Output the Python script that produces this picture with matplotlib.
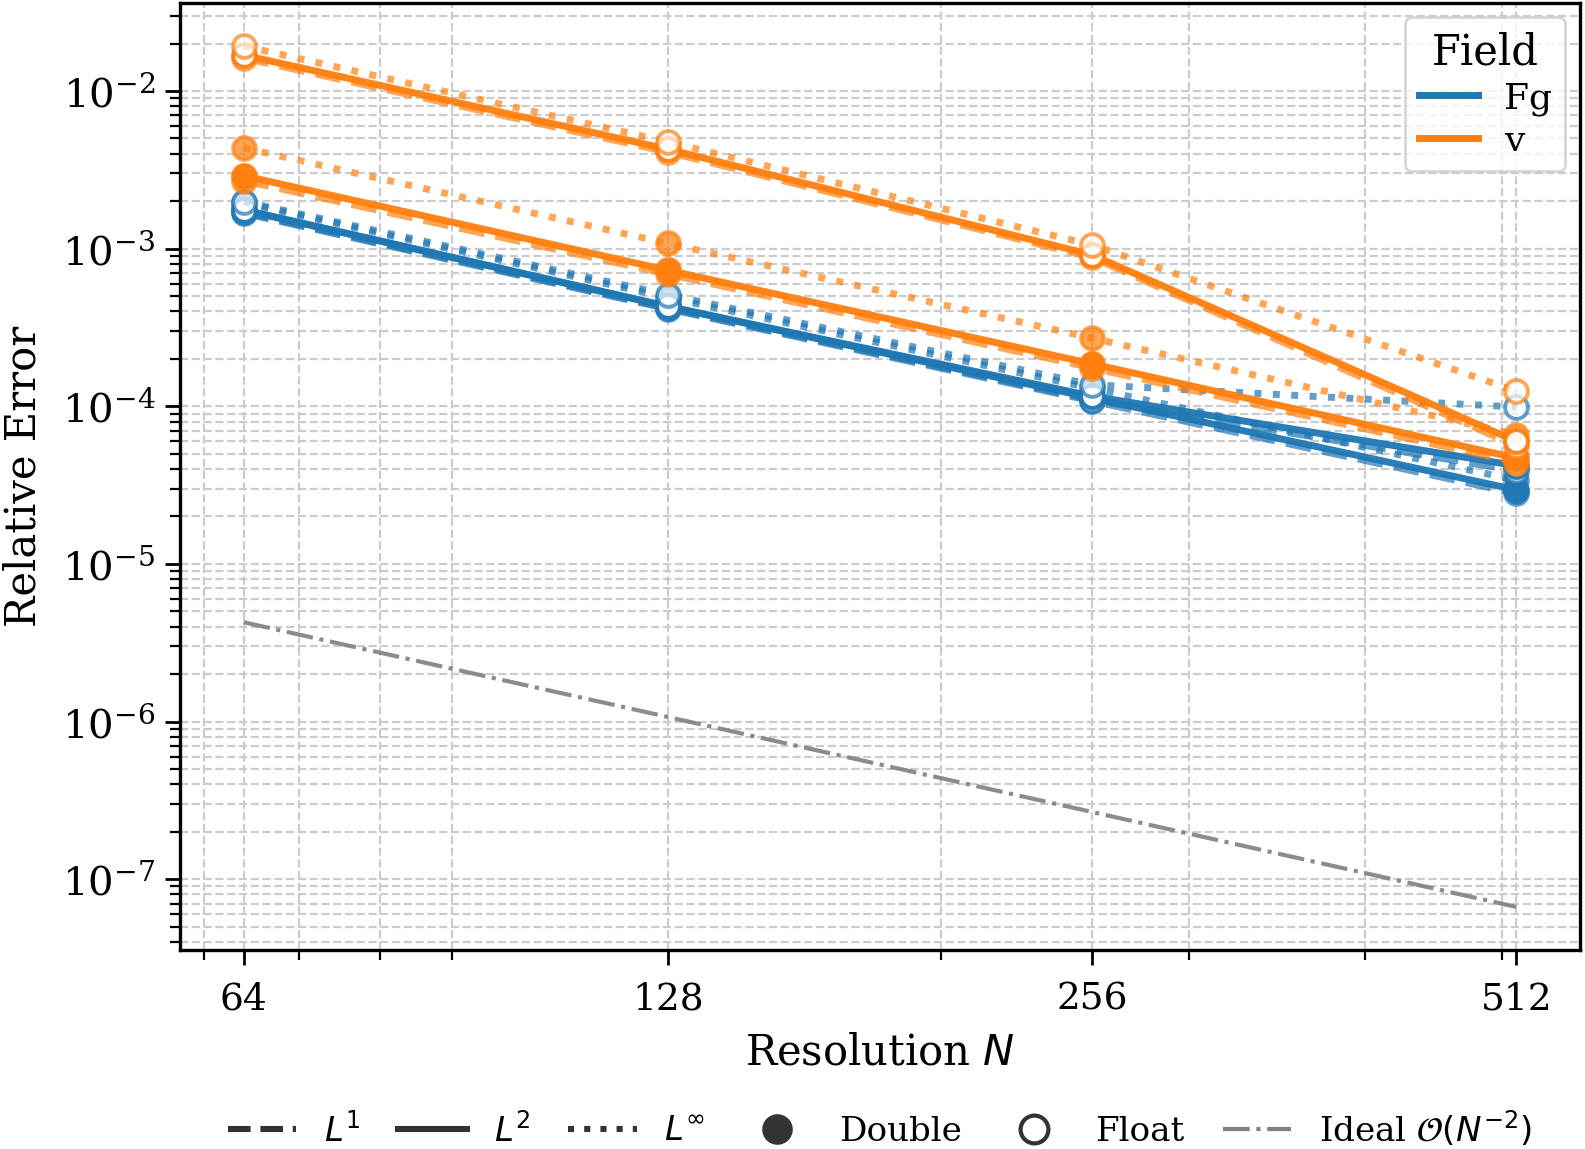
import matplotlib
matplotlib.use('Agg')
import matplotlib.pyplot as plt
from matplotlib.lines import Line2D
from matplotlib.ticker import NullFormatter

#### Data ####
N = [64, 128, 256, 512]
tick_labels = ['64', '128', '256', '512']

# Fg field
fg_double_l1 = [1.68e-3, 4.15e-4, 1.08e-4, 2.8e-5]
fg_double_l2 = [1.76e-3, 4.30e-4, 1.13e-4, 2.95e-5]
fg_double_linf = [1.95e-3, 4.90e-4, 1.30e-4, 3.4e-5]
fg_float_l1 = [1.70e-3, 4.20e-4, 1.10e-4, 3.9e-5]
fg_float_l2 = [1.76e-3, 4.30e-4, 1.16e-4, 4.2e-5]
fg_float_linf = [1.99e-3, 5.10e-4, 1.37e-4, 9.9e-5]

# v field
v_double_l1 = [2.70e-3, 6.90e-4, 1.75e-4, 4.4e-5]
v_double_l2 = [2.90e-3, 7.30e-4, 1.86e-4, 4.7e-5]
v_double_linf = [4.36e-3, 1.08e-3, 2.71e-4, 6.6e-5]
v_float_l1 = [1.62e-2, 4.10e-3, 8.80e-4, 5.6e-5]
v_float_l2 = [1.69e-2, 4.28e-3, 9.14e-4, 6.0e-5]
v_float_linf = [1.93e-2, 4.76e-3, 1.056e-3, 1.25e-4]

ideal = [4.27e-6, 1.07e-6, 2.67e-7, 6.67e-8]

#### Style ####
plt.rcParams['font.family'] = 'serif'
plt.rcParams['font.serif'] = ['DejaVu Serif']

colors = {'Fg': '#1f77b4', 'v': '#ff7f0e'}
norm_style = {'L1': ('--', 0.7), 'L2': ('-', 0.95), 'Linf': (':', 0.7)}

series = [
    ('Fg', 'Double', 'L1', fg_double_l1),
    ('Fg', 'Double', 'L2', fg_double_l2),
    ('Fg', 'Double', 'Linf', fg_double_linf),
    ('Fg', 'Float', 'L1', fg_float_l1),
    ('Fg', 'Float', 'L2', fg_float_l2),
    ('Fg', 'Float', 'Linf', fg_float_linf),
    ('v', 'Double', 'L1', v_double_l1),
    ('v', 'Double', 'L2', v_double_l2),
    ('v', 'Double', 'Linf', v_double_linf),
    ('v', 'Float', 'L1', v_float_l1),
    ('v', 'Float', 'L2', v_float_l2),
    ('v', 'Float', 'Linf', v_float_linf),
]

fig = plt.figure(figsize=(7.925, 5.745), dpi=200)
ax = fig.add_axes([0.1136, 0.1732, 0.8832, 0.8242])

for field, prec, norm, vals in series:
    ls, alpha = norm_style[norm]
    c = colors[field]
    mfc = c if prec == 'Double' else 'white'
    ax.plot(N, vals, ls=ls, color=c, alpha=alpha, lw=2.5,
            marker='o', ms=8.2, mfc=mfc, mec=c, mew=1.4)

ax.plot(N, ideal, ls='-.', color='0.5', lw=1.5, alpha=0.9)

ax.set_xscale('log')
ax.set_yscale('log')
ax.set_xticks(N)
ax.set_xticklabels(tick_labels)
ax.xaxis.set_minor_formatter(NullFormatter())

ax.grid(True, which='both', ls='--', color='0.8', lw=0.8)
ax.tick_params(which='major', length=5.4, width=1.0)
ax.tick_params(axis='x', which='major', labelsize=13.5, pad=6)
ax.tick_params(axis='y', which='major', labelsize=14.5)
ax.tick_params(which='minor', length=3.6, width=0.8)
for s in ax.spines.values():
    s.set_linewidth(1.2)

ax.set_xlabel('Resolution $N$', fontsize=15, labelpad=5)
ax.set_ylabel('Relative Error', fontsize=15, labelpad=6)

#### Legends ####
field_handles = [Line2D([], [], color=colors['Fg'], lw=2.5),
                 Line2D([], [], color=colors['v'], lw=2.5)]
ax.legend(field_handles, ['Fg', 'v'], title='Field', loc='upper right',
          fontsize=13, title_fontsize=15, labelspacing=0.22,
          handlelength=1.65, handletextpad=0.7, borderaxespad=0.4,
          borderpad=0.38)

dark = '0.2'
style_handles = [
    Line2D([], [], color=dark, ls='--', lw=2.2),
    Line2D([], [], color=dark, ls='-', lw=2.2),
    Line2D([], [], color=dark, ls=':', lw=2.2),
    Line2D([], [], color=dark, ls='none', marker='o', ms=10),
    Line2D([], [], color=dark, ls='none', marker='o', ms=10, mfc='white', mew=1.5),
    Line2D([], [], color='0.5', ls='-.', lw=1.5),
]
style_labels = ['$L^1$', '$L^2$', r'$L^\infty$', 'Double', 'Float',
                r'Ideal $\mathcal{O}(N^{-2})$']
fig.legend(style_handles, style_labels, loc='lower center', ncol=6,
           frameon=False, fontsize=12.3, bbox_to_anchor=(0.555, -0.014),
           borderpad=0.0, columnspacing=1.12)

fig.savefig('out.png', dpi=200)
